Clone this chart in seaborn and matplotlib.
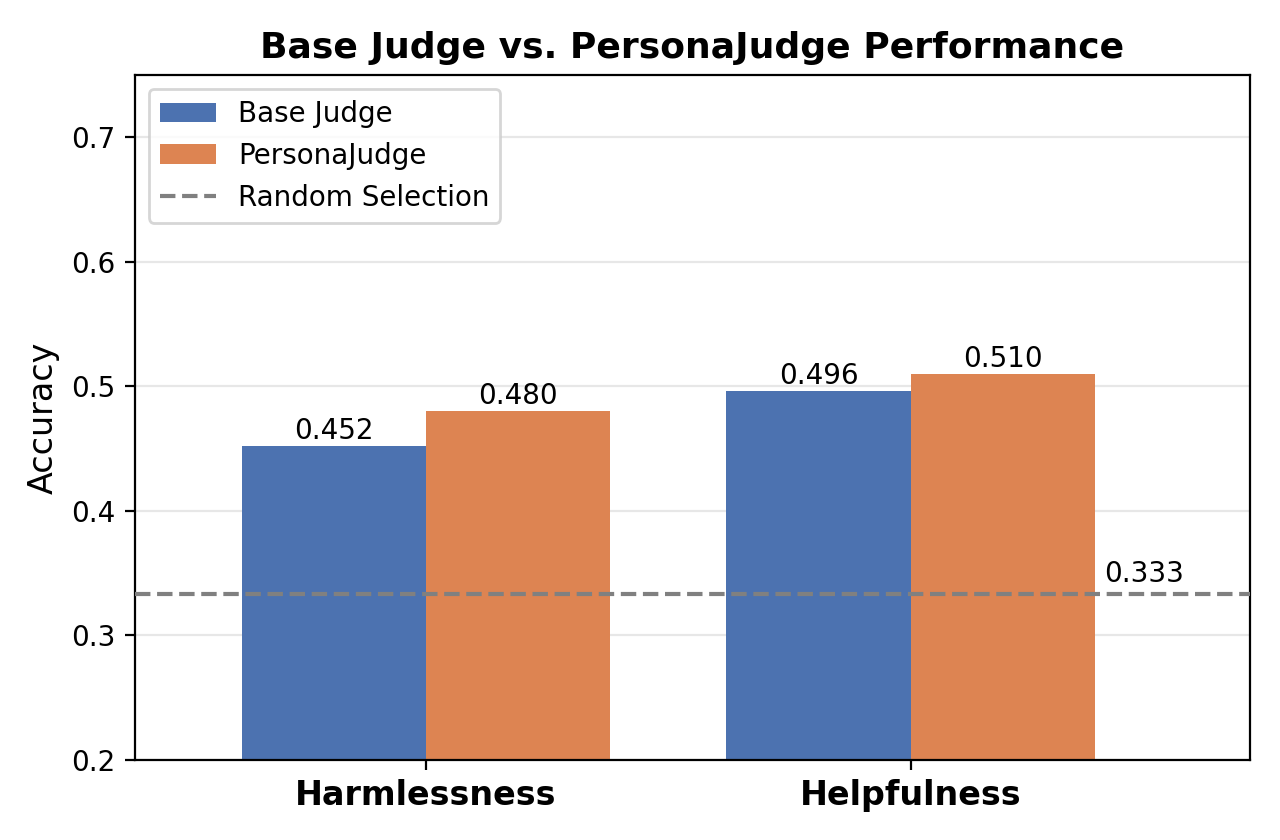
import matplotlib
matplotlib.use("Agg")
import matplotlib.pyplot as plt
import seaborn as sns
import pandas as pd

# values
categories = ["Harmlessness", "Helpfulness"]
base_judge = [0.452, 0.496]
persona_judge = [0.480, 0.510]
random_baseline = 0.333
models = ["Base Judge", "PersonaJudge"]

df = pd.DataFrame({
    "category": categories * 2,
    "model": [models[0]] * 2 + [models[1]] * 2,
    "accuracy": base_judge + persona_judge,
})

palette = sns.color_palette("deep")[:2]

fig, ax = plt.subplots(figsize=(6.4, 4.2), dpi=200)
fig.subplots_adjust(left=0.1055, right=0.9766, top=0.9107, bottom=0.0952)

sns.barplot(data=df, x="category", y="accuracy", hue="model",
            palette=palette, width=0.76, gap=0, saturation=1,
            errorbar=None, ax=ax, zorder=2)

for container in ax.containers:
    ax.bar_label(container, fmt="%.3f", padding=0.5, fontsize=10)

ax.axhline(random_baseline, color="gray", linestyle="--", linewidth=1.5,
           label="Random Selection", zorder=3)
ax.text(1.4, random_baseline + 0.005, f"{random_baseline:.3f}",
        ha="left", va="bottom", fontsize=10)

ax.set_xlim(-0.6, 1.7)
ax.set_ylim(0.2, 0.75)
ax.set_xlabel("")
ax.set_ylabel("Accuracy", fontsize=12)
ax.set_title("Base Judge vs. PersonaJudge Performance", fontsize=13, fontweight="bold")
for lbl in ax.get_xticklabels():
    lbl.set_fontsize(12)
    lbl.set_fontweight("bold")
ax.grid(axis="y", alpha=0.3, zorder=0)
ax.set_axisbelow(True)
ax.legend(loc="upper left", fontsize=10)

fig.savefig("out.png", dpi=200)
